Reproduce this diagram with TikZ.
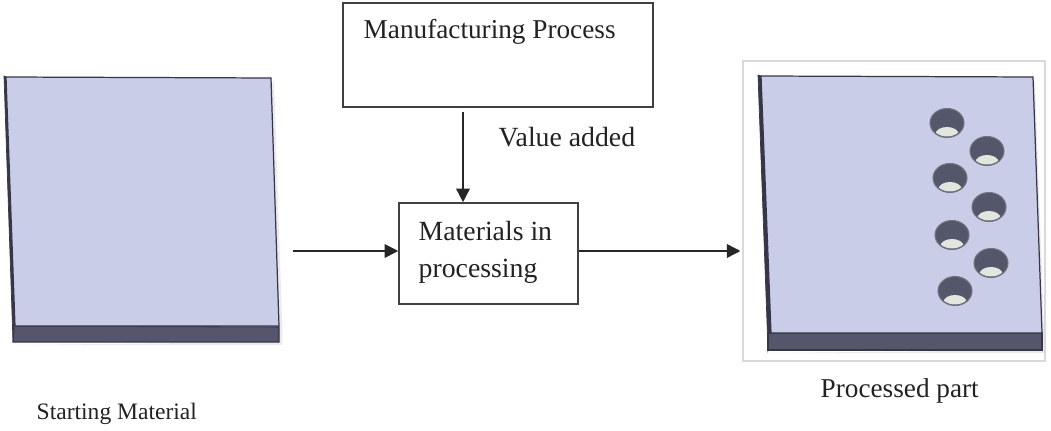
\documentclass[tikz,border=0pt]{standalone}
\usepackage{fontspec}
\setmainfont{Liberation Serif}
\usetikzlibrary{arrows.meta}
\definecolor{platetop}{HTML}{C9CDE8}
\definecolor{platefront}{HTML}{55566B}
\definecolor{plateedge}{HTML}{35364A}
\definecolor{holewall}{HTML}{54566A}
\definecolor{holefloor}{HTML}{E3E6DF}
\definecolor{inktext}{HTML}{222222}

\begin{document}
\begin{tikzpicture}

    % Define some common styles
    \tikzset{
        boxline/.style={draw=black!75, line width=0.45pt, fill=none},
        flowline/.style={draw=black!85, line width=0.42pt, -{Triangle[length=1.35mm,width=1.35mm]}},
        caption/.style={font=\fontsize{7.9}{10.4}\selectfont, text=inktext, inner sep=0pt},
        topface/.style={fill=platetop, draw=plateedge, line width=0.35pt},
        frontface/.style={fill=platefront, draw=plateedge, line width=0.3pt},
        sideface/.style={fill=plateedge, draw=plateedge, line width=0.2pt},
        holeset/.style={fill=holewall, draw=plateedge!70, line width=0.3pt},
        softshade/.style={fill=black!8}
    }

    \useasboundingbox (0,0) rectangle (10.51,4.30);

    % Draw the starting plate
    \fill[softshade] (0.16,0.85) -- (2.82,0.85) -- (2.82,1.1) -- (2.74,3.5) -- (2.71,3.4) -- (2.79,0.88) -- cycle;
    \filldraw[sideface] (0.04,3.54) -- (0.06,3.53) -- (0.15,1.04) -- (0.13,0.88) -- cycle;
    \filldraw[frontface] (0.14,1.04) -- (2.79,1.03) -- (2.79,0.88) -- (0.13,0.88) -- cycle;
    \filldraw[topface] (0.06,3.53) -- (2.71,3.52) -- (2.79,1.04) -- (0.15,1.04) -- cycle;

    % Draw the frame and the processed plate
    \node[draw=black!15, line width=0.3pt, minimum width=3.02cm, minimum height=3.00cm, inner sep=0pt] (partframe) at (8.94,2.19) {};
    \fill[softshade] (7.70,0.77) -- (10.44,0.77) -- (10.44,1.0) -- (10.35,3.5) -- (10.33,3.4) -- (10.42,0.80) -- cycle;
    \filldraw[sideface] (7.58,3.55) -- (7.61,3.54) -- (7.71,0.97) -- (7.68,0.80) -- cycle;
    \filldraw[frontface] (7.68,0.97) -- (10.42,0.97) -- (10.42,0.80) -- (7.68,0.80) -- cycle;
    \filldraw[topface] (7.61,3.54) -- (10.33,3.53) -- (10.42,0.97) -- (7.71,0.97) -- cycle;

    % Drill the holes
    \foreach \hx/\hy in {9.47/3.07, 9.87/2.79, 9.50/2.52, 9.89/2.23, 9.52/1.95, 9.91/1.67, 9.55/1.39}{
        \filldraw[holeset] (\hx,\hy) ellipse (0.17 and 0.145);
        \begin{scope}
            \clip (\hx,\hy) ellipse (0.16 and 0.135);
            \fill[holefloor] (\hx,\hy-0.11) ellipse (0.115 and 0.07);
        \end{scope}
    }

    % Draw the process boxes
    \node[boxline, minimum width=3.10cm, minimum height=1.04cm, inner sep=0pt] (manufacturing) at (4.98,3.75) {};
    \node[boxline, minimum width=1.79cm, minimum height=1.01cm, inner sep=0pt] (materials) at (4.885,1.765) {};
    \coordinate (stockend) at (2.93,1.79);
    \coordinate (valuelevel) at (4.63,3.00);

    % Texts
    \node[caption, font=\fontsize{7.75}{10.4}\selectfont, anchor=west] (manufacturingtext) at (3.63,3.98) {Manufacturing Process};
    \node[caption, anchor=west] (valuetext) at (4.98,2.93) {Value added};
    \node[caption, anchor=north west, align=left] (materialstext) at (4.18,2.09) {Materials in\\processing};
    \node[caption, font=\fontsize{6.7}{10.4}\selectfont, anchor=west] (starttext) at (0.36,0.16) {Starting Material};
    \node[caption, font=\fontsize{7.75}{10.4}\selectfont, anchor=west] (parttext) at (8.20,0.39) {Processed part};

    % Arrows
    \draw[flowline, shorten <=0.04cm] (manufacturing.south -| valuelevel) -- (materials.north -| valuelevel);
    \draw[flowline, line width=0.5pt] (stockend) -- (materials.west |- stockend);
    \draw[flowline, shorten >=0.02cm] (materials.east |- stockend) -- (partframe.west |- stockend);

\end{tikzpicture}
\end{document}
